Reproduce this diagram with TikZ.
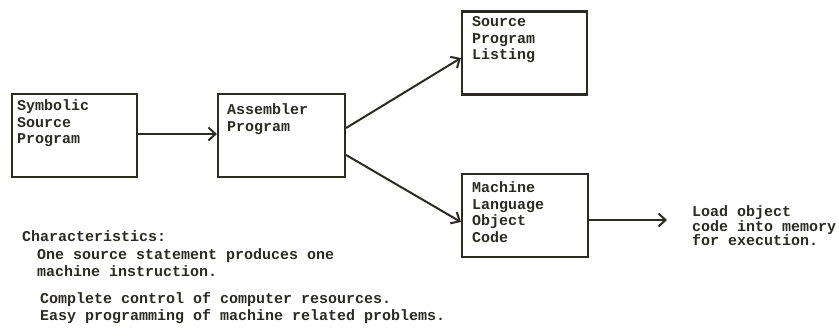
\documentclass[tikz,border=0pt]{standalone}
\usepackage{fontspec}
\setmonofont{Liberation Mono}
\usetikzlibrary{arrows.meta}
\definecolor{ink}{HTML}{2B2B24}
\tikzset{
	blk/.style={draw=ink, line width=2.2pt, minimum width=#1, minimum height=83pt, inner sep=0pt},
	txt/.style={anchor=north west, inner sep=0pt, align=left, text=ink, font=\ttfamily\bfseries\fontsize{15pt}{16.5pt}\selectfont},
	arr/.style={draw=ink, line width=2pt, -{Straight Barb[length=7pt,width=13pt]}}
}
\begin{document}
\begin{tikzpicture}[x=1pt,y=-1pt]
				\useasboundingbox (0,0) rectangle (839,329);
				\fill[white] (0,0) rectangle (839,329);
				% boxes
				\node[blk=125pt] (sym) at (74.5,135.5) {};
				\node[blk=127pt] (asm) at (281.5,135.5) {};
				\node[blk=125pt] (list) at (524.5,53) {};
				\node[blk=126pt] (obj) at (525,215.5) {};
				\node[txt] (symtxt) at ([shift={(6,7)}]sym.north west) {Symbolic\\Source\\Program};
				\node[txt] (asmtxt) at ([shift={(10,11)}]asm.north west) {Assembler\\Program};
				\node[txt] (listtxt) at ([shift={(11,6)}]list.north west) {Source\\Program\\Listing};
				\node[txt] (objtxt) at ([shift={(11,9)}]obj.north west) {Machine\\Language\\Object\\Code};
				% texts
				\node[txt, font=\ttfamily\bfseries\fontsize{15pt}{14.5pt}\selectfont] (load) at (692,205.5) {Load object\\code into memory\\for execution.};
				\node[txt] (chars) at (22,230.5) {Characteristics:};
				\node[txt] (pta) at (37,248.5) {One source statement produces one\\machine instruction.};
				\node[txt] (ptb) at (40,292.5) {Complete control of computer resources.\\Easy programming of machine related problems.};
				% connectors
				\coordinate (exec) at (667,220);
				\draw[arr] ([yshift=1.5]sym.east) -- ([yshift=1.5]asm.west);
				\draw[arr] ([yshift=7.5]asm.east) -- ([yshift=-5]list.west);
				\draw[arr] ([yshift=-19.5]asm.east) -- ([yshift=-6.5]obj.west);
				\draw[arr] (obj.east |- exec) -- (exec);
				\end{tikzpicture}
\end{document}
